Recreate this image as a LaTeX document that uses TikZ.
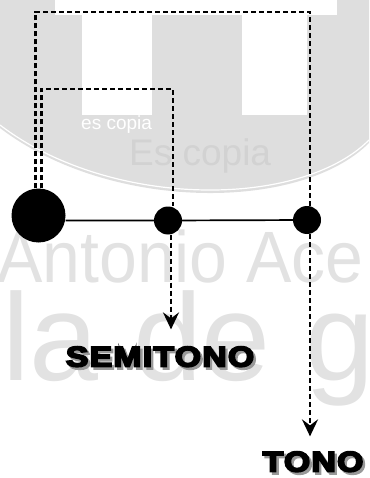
\documentclass[tikz,border=0pt]{standalone}
\usepackage{fontspec}
\usepackage{graphicx}
\usepackage{tikz}
\usetikzlibrary{arrows.meta}
\usetikzlibrary{positioning}
\setmainfont{Liberation Sans}
\newfontfamily\heavyfont{Liberation Sans Bold}[FakeBold=6, LetterSpace=4]
\definecolor{wmgray}{HTML}{DEDEDE}
\definecolor{wmdark}{HTML}{D2D2D2}
\definecolor{wmlight}{HTML}{E2E2E2}
\newcommand{\shadowed}[1]{\makebox[0pt][l]{\hspace{2pt}\raisebox{-2.5pt}{\textcolor{black!40}{#1}}}#1}
\tikzstyle{every node}+=[inner sep=0pt]
\tikzstyle{dot} = [circle, fill=black, minimum size=28pt]
\tikzstyle{bigdot} = [dot, minimum size=54pt]
\tikzstyle{line} = [draw, line width=1.7pt]
\tikzstyle{dashline} = [draw, line width=2.4pt, dash pattern=on 5pt off 3pt]
\tikzstyle{arrowline} = [dashline, -{Stealth[length=17pt, width=16pt, inset=6pt]}]
\tikzstyle{tag} = [font=\heavyfont\fontsize{28.5}{30}\selectfont, anchor=base]
\tikzstyle{wmtext} = [anchor=base west, text=wmlight]

\begin{document}
\begin{tikzpicture}[x=1pt, y=-1pt]
            \useasboundingbox (0,0) rectangle (369,478);
            % Watermark
            \begin{scope}
              \clip (0,0) rectangle (369,478);
              \fill[wmgray] (0,0) -- (0,128) .. controls (110,212) and (300,212) .. (369,143) -- (369,0) -- cycle;
              \draw[white, line width=1.2pt] (0,125) .. controls (110,209) and (300,209) .. (369,140);
              \fill[white] (55,0) rectangle (337,15);
              \fill[white] (82,15) rectangle (152,115);
              \fill[white] (242,15) rectangle (307,115);
              \node [wmtext, text=white, font=\fontsize{19}{19}\selectfont] (wm1) at (81,130) {es copia};
              \node [wmtext, text=wmdark, font=\fontsize{37}{37}\selectfont] (wm2) at (129,166) {Es copia};
              \node [wmtext, font=\fontsize{68}{68}\selectfont] (wm3) at (-3,282) {\scalebox{1}[1.07]{Antonio Ace}};
              \node [wmtext, font=\fontsize{124}{124}\selectfont] (wm4) at (2,380) {la de g};
            \end{scope}
            % Place nodes
            \node [bigdot] (root) at (38.5,215.5) {};
            \node [dot] (semi) at (168,220.5) {};
            \node [dot] (tono) at (307,220) {};
            \coordinate (itop) at (173,89);
            \coordinate (otop) at (310,12);
            \node [tag] (semilbl) at (160,366.5) {\scalebox{1.18}[1]{\shadowed{SEMITONO}}};
            \node [tag] (tonolbl) at (313,471.5) {\scalebox{1.18}[1]{\shadowed{TONO}}};
            % Draw edges
            \path [line] (root.east |- semi) -- (semi) -- (tono);
            \path [dashline] ([xshift=-3pt]root.north) |- (otop) -- (otop |- tono.north);
            \path [dashline] ([xshift=3pt]root.north) |- (itop) -- (itop |- semi.north);
            \path [arrowline, shorten >=17pt] ([xshift=3pt]semi.south) -- ([xshift=3pt]semi.south |- semilbl.north);
            \path [arrowline, shorten >=15pt] (otop |- tono.south) -- (otop |- tonolbl.north);
          \end{tikzpicture}
\end{document}
